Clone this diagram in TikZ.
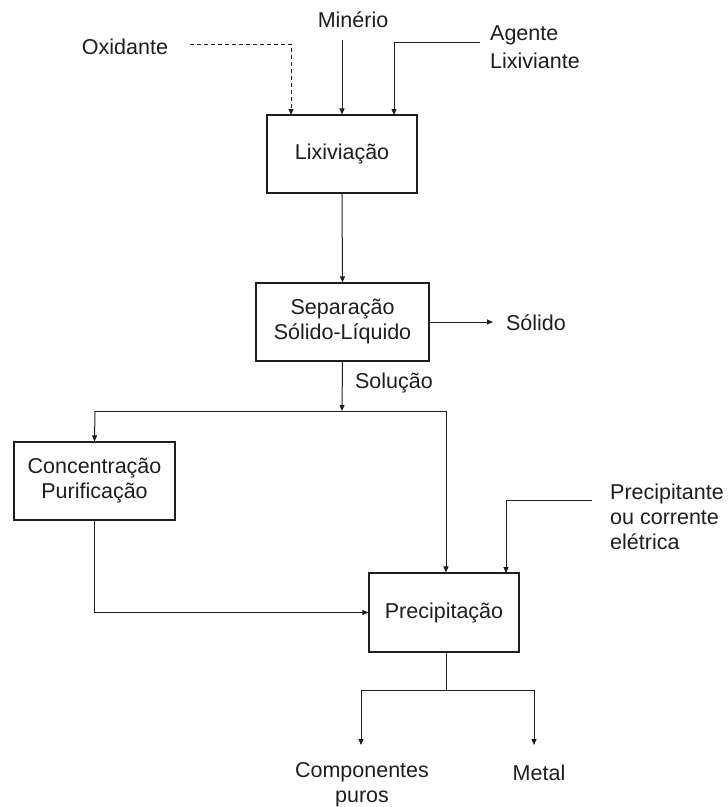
\documentclass[tikz,border=0pt]{standalone}
\usepackage{fontspec}
\setmainfont{Liberation Sans}
\usetikzlibrary{arrows.meta}
\definecolor{ink}{HTML}{1E1E1E}
\begin{document}
\begin{tikzpicture}[x=1pt,y=-1pt,
  font=\fontsize{21.5}{25}\selectfont,
  every node/.style={text=ink},
  procbox/.style={draw=ink, line width=1.1pt, inner sep=0pt, align=center},
  lbl/.style={inner sep=0pt, align=center},
  flow/.style={draw=ink, line width=1pt, -{Triangle[length=6pt,width=5pt]}},
  plain/.style={draw=ink, line width=1pt}]
\useasboundingbox (0,0) rectangle (728,807);

% process boxes
\node[procbox, minimum width=150pt, minimum height=78pt] (lix) at (342,154) {Lixiviação};
\node[procbox, minimum width=173pt, minimum height=78pt] (sep) at (342.5,322) {Separação\\Sólido-Líquido};
\node[procbox, minimum width=161pt, minimum height=78pt] (conc) at (94.5,481) {Concentração\\Purificação};
\node[procbox, minimum width=150pt, minimum height=79pt] (prec) at (444,612.5) {Precipitação};

% stream labels
\node[lbl] (oxi) at (125,47) {Oxidante};
\node[lbl] (min) at (353,20) {Minério};
\node[lbl, anchor=west, align=left] (age) at (490,47) {Agente\\[3pt]Lixiviante};
\node[lbl] (sol) at (536,323) {Sólido};
\node[lbl] (solu) at (394,383) {Solução};
\node[lbl, anchor=west, align=left] (pre) at (610,517) {Precipitante\\ou corrente\\elétrica};
\node[lbl] (comp) at (362,785) {Componentes\\puros};
\node[lbl] (met) at (539,773) {Metal};

% connector end points
\coordinate (oxiS) at (190,44);
\coordinate (oxiT) at (291,115);
\coordinate (minS) at (342,40);
\coordinate (ageS) at (480,42);
\coordinate (ageT) at (394,115);
\coordinate (solE) at (493,322);
\coordinate (split) at (342,411);
\coordinate (splitL) at (95,411);
\coordinate (splitR) at (446,411);
\coordinate (preS) at (592,500);
\coordinate (preT) at (506,573);
\coordinate (precB) at (446,652);
\coordinate (fork) at (446,690);
\coordinate (forkL) at (361,690);
\coordinate (forkR) at (534,690);
\coordinate (compT) at (361,745);
\coordinate (metT) at (534,745);

% feeds into leaching
\draw[flow, dashed, dash pattern=on 4pt off 3pt] (oxiS) -| (oxiT);
\draw[flow] (minS) -- (minS |- lix.north);
\draw[flow] (ageS) -| (ageT);

% main line
\draw[flow] (lix.south) -- (sep.north);
\draw[flow] (sep.east) -- (solE);
\draw[flow] (sep.south) -- (split);
\draw[plain] (splitL) -- (splitR);
\draw[flow] (splitL) -- (conc.north);
\draw[flow] (splitR) -- (splitR |- prec.north);
\draw[flow] (conc.south) |- (prec.west);
\draw[flow] (preS) -| (preT);

% products
\draw[plain] (precB) -- (fork);
\draw[plain] (forkL) -- (forkR);
\draw[flow] (forkL) -- (compT);
\draw[flow] (forkR) -- (metT);
\end{tikzpicture}
\end{document}
